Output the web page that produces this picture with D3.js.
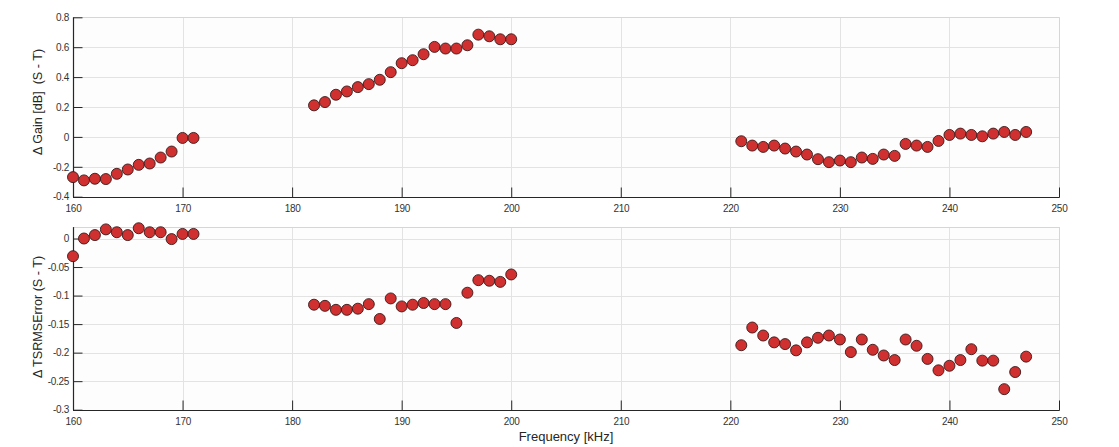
<!DOCTYPE html>
<html>
<head>
<meta charset="utf-8">
<script src="https://cdn.jsdelivr.net/npm/d3@7"></script>
<style>
html,body{margin:0;padding:0;background:#fff;}
svg{display:block;}
text{font-family:"Liberation Sans",Arial,sans-serif;}
</style>
</head>
<body>
<svg id="chart" width="1119" height="447"></svg>
<script>
// ---- data ----
const freq1 = [160,161,162,163,164,165,166,167,168,169,170,171];
const freq2 = [182,183,184,185,186,187,188,189,190,191,192,193,194,195,196,197,198,199,200];
const freq3 = [221,222,223,224,225,226,227,228,229,230,231,232,233,234,235,236,237,238,239,240,241,242,243,244,245,246,247];

const gain1 = [-0.269,-0.291,-0.280,-0.282,-0.247,-0.218,-0.187,-0.178,-0.138,-0.098,-0.007,-0.007];
const gain2 = [0.211,0.233,0.282,0.304,0.333,0.353,0.382,0.433,0.493,0.513,0.553,0.602,0.591,0.591,0.613,0.684,0.673,0.653,0.653];
const gain3 = [-0.029,-0.058,-0.067,-0.058,-0.078,-0.098,-0.118,-0.149,-0.169,-0.158,-0.169,-0.138,-0.147,-0.118,-0.127,-0.047,-0.058,-0.067,-0.027,0.013,0.022,0.013,0.004,0.022,0.033,0.013,0.033];

const err1 = [-0.031,0.000,0.006,0.016,0.011,0.006,0.018,0.011,0.011,-0.001,0.008,0.008];
const err2 = [-0.116,-0.118,-0.125,-0.125,-0.123,-0.115,-0.141,-0.105,-0.119,-0.116,-0.113,-0.115,-0.115,-0.148,-0.095,-0.073,-0.074,-0.076,-0.063];
const err3 = [-0.187,-0.156,-0.170,-0.182,-0.185,-0.196,-0.182,-0.174,-0.170,-0.177,-0.199,-0.177,-0.195,-0.205,-0.213,-0.177,-0.188,-0.211,-0.231,-0.223,-0.213,-0.194,-0.214,-0.214,-0.264,-0.234,-0.207];

const xTicks = [160,170,180,190,200,210,220,230,240,250];
const gainTicks = [0.8,0.6,0.4,0.2,0,-0.2,-0.4];
const gainTickLabels = ["0.8","0.6","0.4","0.2","0","-0.2","-0.4"];
const errTicks = [0,-0.05,-0.1,-0.15,-0.2,-0.25,-0.3];
const errTickLabels = ["0","-0.05","-0.1","-0.15","-0.2","-0.25","-0.3"];

const xLabel = "Frequency [kHz]";
const gainLabel = "\u0394 Gain [dB]  (S - T)";
const errLabel = "\u0394 TSRMSError (S - T)";

// ---- layout ----
const svg = d3.select("#chart");
const left = 73, right = 1059;
const x = d3.scaleLinear().domain([160,250]).range([left,right]);

function panel(top, bottom, domain, ticks, tickLabels, label, labelCenter, series){
  const y = d3.scaleLinear().domain(domain).range([bottom, top]);
  const g = svg.append("g");
  g.append("rect").attr("x",left).attr("y",top).attr("width",right-left).attr("height",bottom-top)
    .attr("fill","#fdfdfd");
  // grid
  g.selectAll(".gx").data(xTicks).enter().append("line")
    .attr("x1",d=>Math.round(x(d))+0.5).attr("x2",d=>Math.round(x(d))+0.5)
    .attr("y1",top).attr("y2",bottom).attr("stroke","#e3e3e3").attr("stroke-width",1);
  g.selectAll(".gy").data(ticks).enter().append("line")
    .attr("y1",d=>Math.round(y(d))+0.5).attr("y2",d=>Math.round(y(d))+0.5)
    .attr("x1",left).attr("x2",right).attr("stroke","#e3e3e3").attr("stroke-width",1);
  // box top/right
  g.append("line").attr("x1",left).attr("x2",right).attr("y1",Math.round(top)+0.5).attr("y2",Math.round(top)+0.5)
    .attr("stroke","#d6d6d6");
  g.append("line").attr("x1",right+0.5).attr("x2",right+0.5).attr("y1",top).attr("y2",bottom)
    .attr("stroke","#d6d6d6");
  // axes
  const xa = d3.axisBottom(x).tickValues(xTicks).tickSize(-10).tickPadding(7).tickFormat(d3.format("d"));
  const gx = g.append("g").attr("transform",`translate(0,${Math.round(bottom)+0.5})`).call(xa);
  const ya = d3.axisLeft(y).tickValues(ticks).tickSize(-9).tickPadding(4.5)
    .tickFormat((d,i)=>tickLabels[i]);
  const gy = g.append("g").attr("transform",`translate(${left+0.5},0)`).call(ya);
  [gx,gy].forEach(a=>{
    a.select(".domain").attr("stroke","#262626").attr("stroke-width",1.2);
    a.selectAll(".tick line").attr("stroke","#262626");
    a.selectAll(".tick text").attr("fill","#333").style("font-size","10px")
      .style("letter-spacing","-0.3px")
      .style("font-family","'Liberation Sans',Arial,sans-serif");
  });
  gx.select(".domain").attr("d",`M${left},0H${right+0.5}`);
  gy.select(".domain").attr("d",`M0,${top}V${bottom}`);
  // y label
  g.append("text").attr("transform",`translate(42,${labelCenter}) rotate(-90)`)
    .attr("text-anchor","middle").attr("fill","#262626").style("font-size","12.6px")
    .style("white-space","pre").text(label);
  // points
  series.forEach(([xs,ys])=>{
    g.selectAll(null).data(xs.map((d,i)=>[d,ys[i]])).enter().append("circle")
      .attr("cx",d=>x(d[0])).attr("cy",d=>y(d[1])).attr("r",5.5)
      .attr("fill","#d03030").attr("stroke","#3a1818").attr("stroke-width",0.9);
  });
  return y;
}

panel(17.3, 196.7, [-0.4,0.8], gainTicks, gainTickLabels, gainLabel, 102,
  [[freq1,gain1],[freq2,gain2],[freq3,gain3]]);
panel(227.1, 409.7, [-0.3,0.02], errTicks, errTickLabels, errLabel, 317,
  [[freq1,err1],[freq2,err2],[freq3,err3]]);

svg.append("text").attr("x",(left+right)/2).attr("y",441).attr("text-anchor","middle")
  .attr("fill","#262626").style("font-size","13px").text(xLabel);
</script>
</body>
</html>
